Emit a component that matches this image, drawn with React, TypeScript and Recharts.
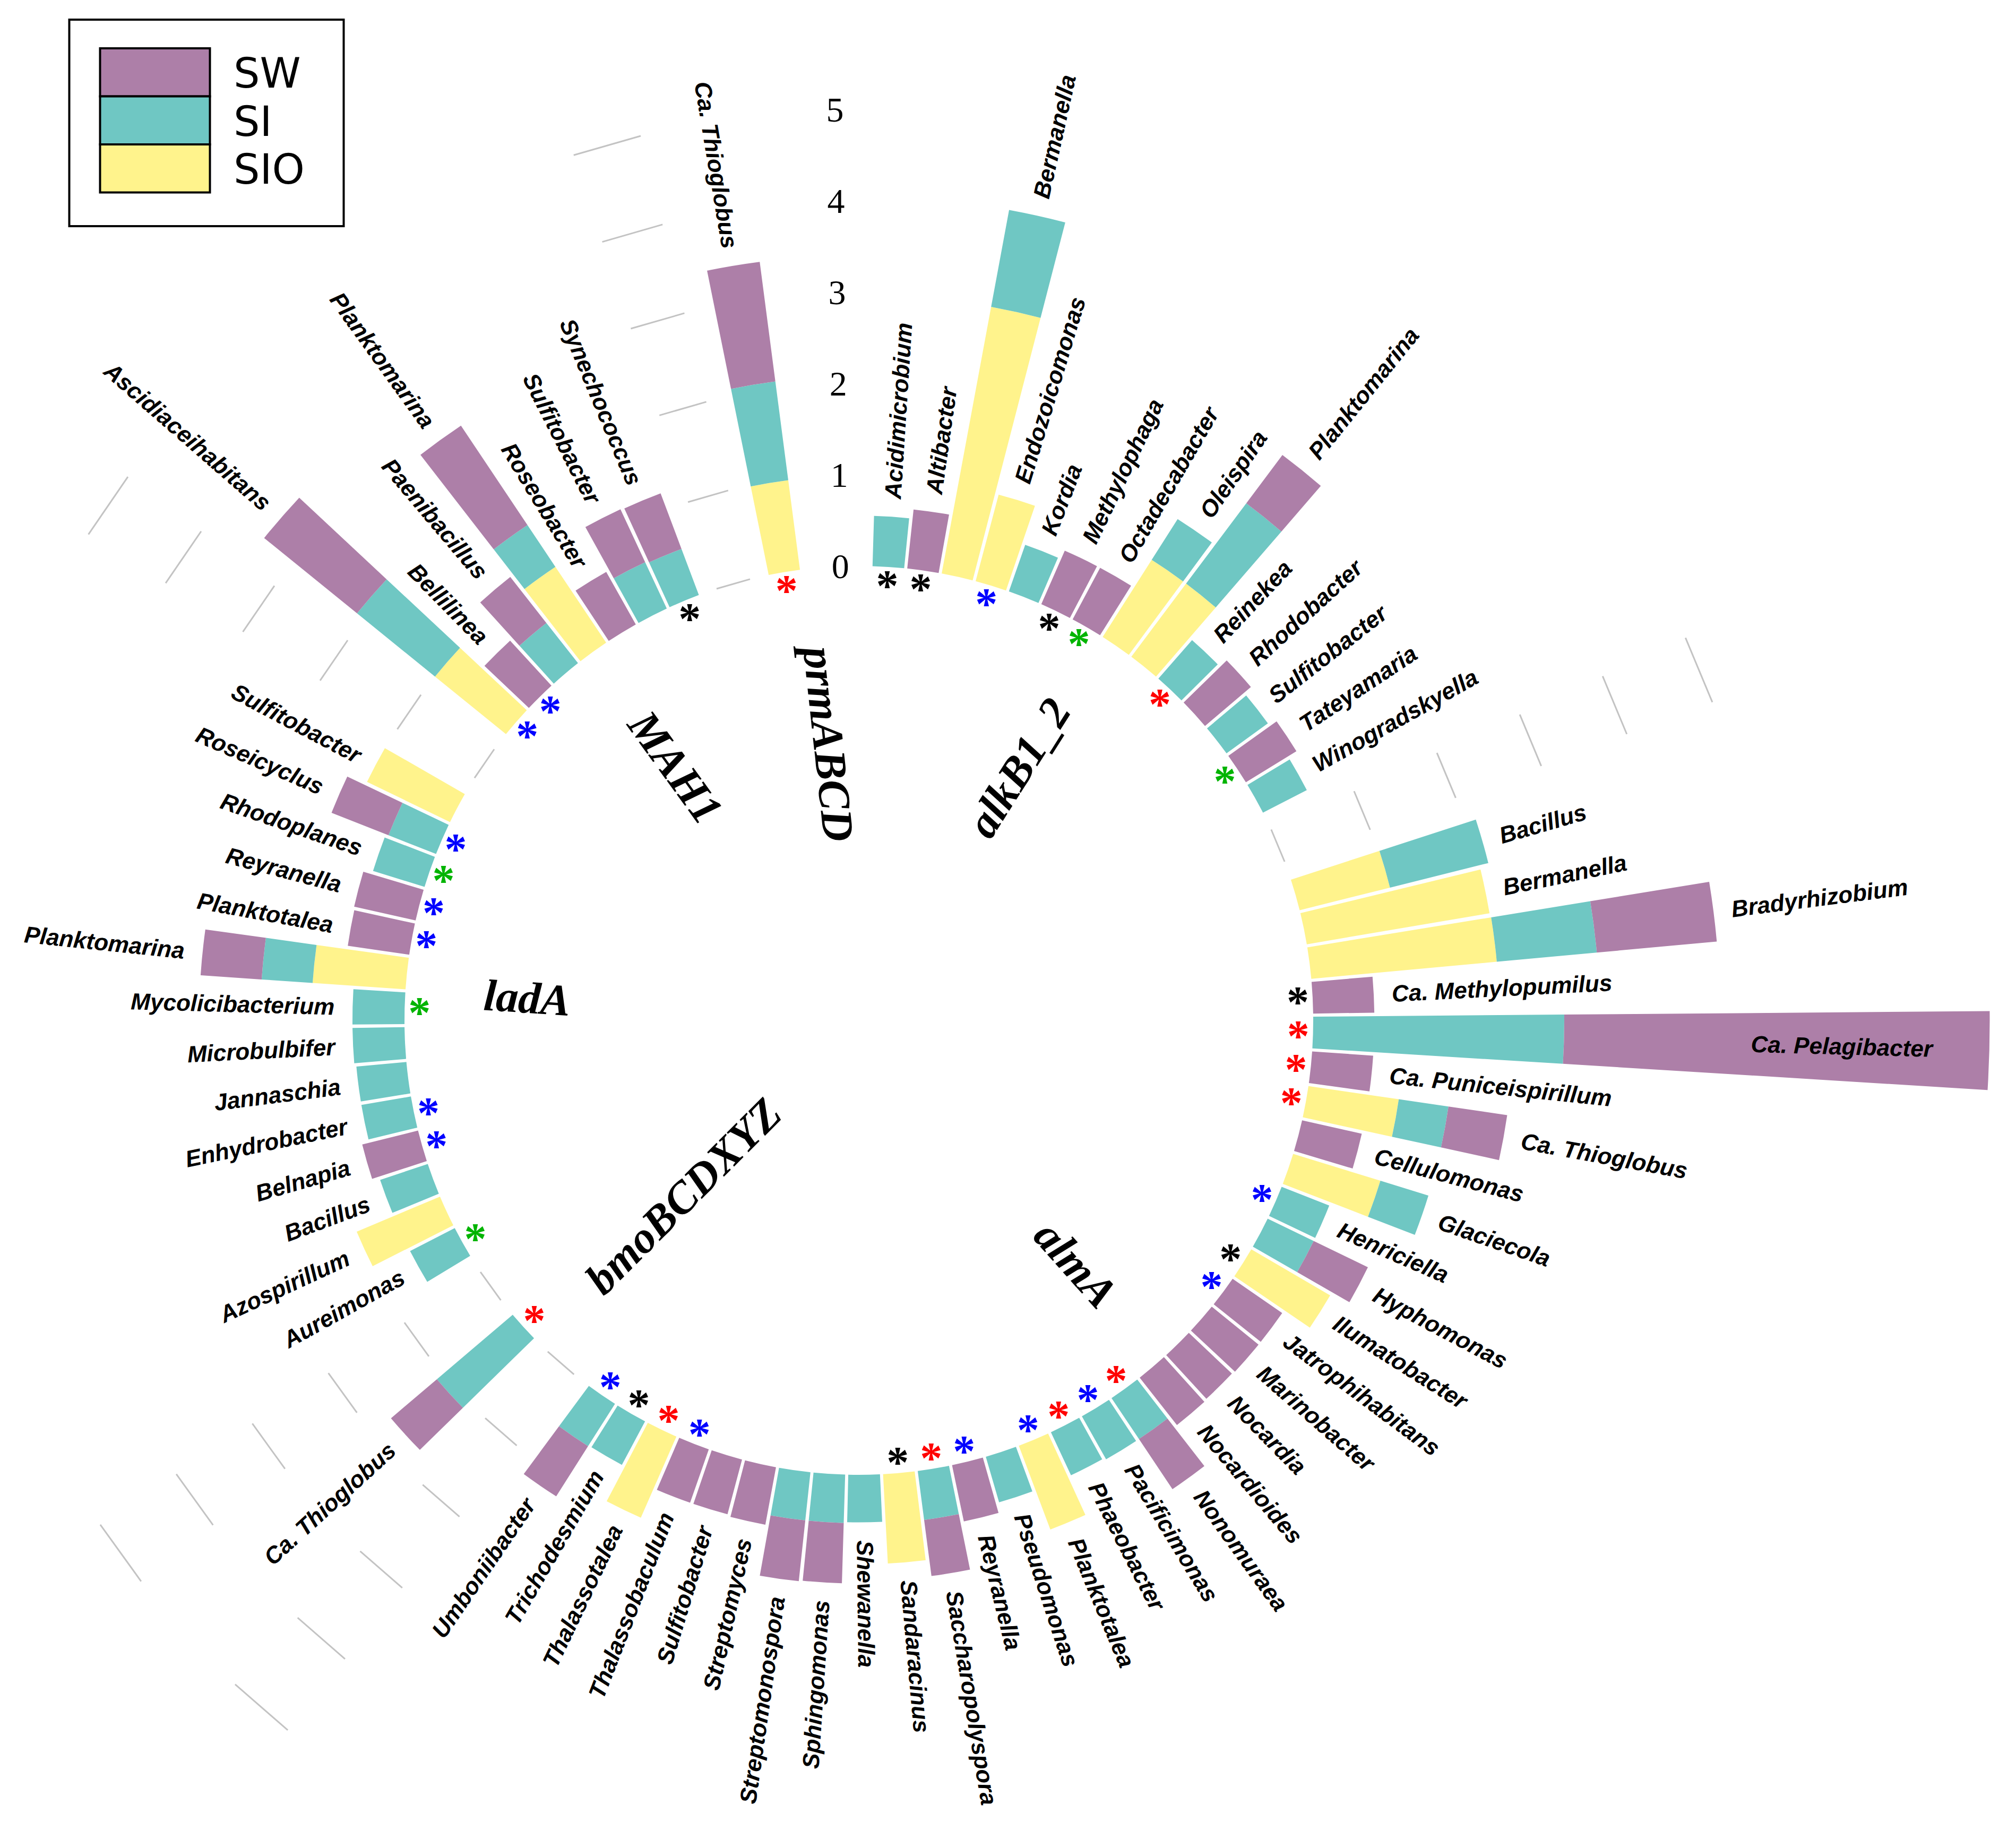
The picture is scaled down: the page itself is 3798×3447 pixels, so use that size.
import React from 'react';
import { RadialBarChart, RadialBar, PolarAngleAxis, PolarRadiusAxis } from 'recharts';

const WIDTH = 3798;
const HEIGHT = 3447;

// polar frame
const CX = 1618;
const CY = 1922;
const INNER_R = 856;
const UNIT_R = 172;
const MAX_VALUE = 8;
const START_ANGLE = 84.1;
const LABEL_CAP = 4.6;
const LABEL_GAP = 34;
const STAR_R = 828;
const GROUP_LABEL_R = 708;

const SERIES = ['SIO', 'SI', 'SW']; // inner -> outer
const SERIES_COLOR: Record<string, string> = { SW: '#ad7fa8', SI: '#6fc7c3', SIO: '#fff38c' };
const LEGEND_ORDER = ['SW', 'SI', 'SIO'];
const STAR_COLOR: Record<string, string> = { k: '#000000', r: '#ff0000', b: '#0000ff', g: '#00b400' };
const AXIS_TICKS = [0, 1, 2, 3, 4, 5];
const EMPTY_BARS = 2;

// ---- alkB1_2
const ALKB_GENERA = ['Acidimicrobium', 'Altibacter', 'Bermanella', 'Endozoicomonas', 'Kordia', 'Methylophaga', 'Octadecabacter', 'Oleispira', 'Planktomarina', 'Reinekea', 'Rhodobacter', 'Sulfitobacter', 'Tateyamaria', 'Winogradskyella'];
const ALKB_SIO = [0, 0, 2.97, 0.98, 0, 0, 0, 1.0, 1.0, 0, 0, 0, 0, 0];
const ALKB_SI = [0.55, 0, 1.08, 0, 0.54, 0, 0, 0.53, 1.1, 0.56, 0, 0.56, 0, 0.54];
const ALKB_SW = [0, 0.65, 0, 0, 0, 0.64, 0.64, 0, 0.66, 0, 0.66, 0, 0.65, 0];
const ALKB_STARS = ['k', 'k', '', 'b', '', 'k', 'g', '', '', 'r', '', '', 'g', ''];

// ---- almA
const ALMA_GENERA = ['Bacillus', 'Bermanella', 'Bradyrhizobium', 'Ca. Methylopumilus', 'Ca. Pelagibacter', 'Ca. Puniceispirillum', 'Ca. Thioglobus', 'Cellulomonas', 'Glaciecola', 'Henriciella', 'Hyphomonas', 'Ilumatobacter', 'Jatrophihabitans', 'Marinobacter', 'Nocardia', 'Nocardioides', 'Nonomuraea', 'Pacificimonas', 'Phaeobacter', 'Planktotalea', 'Pseudomonas', 'Reyranella', 'Saccharopolyspora', 'Sandaracinus', 'Shewanella', 'Sphingomonas', 'Streptomonospora', 'Streptomyces', 'Sulfitobacter', 'Thalassobaculum', 'Thalassotalea', 'Trichodesmium', 'Umboniibacter'];
const ALMA_SIO = [1.02, 2.03, 2.04, 0, 0, 0, 1.0, 0, 1.0, 0, 0, 1.0, 0, 0, 0, 0, 0, 0, 0, 0.98, 0, 0, 0, 0.98, 0, 0, 0, 0, 0, 0, 0.97, 0, 0];
const ALMA_SI = [1.11, 0, 1.1, 0, 2.75, 0, 0.55, 0, 0.55, 0.56, 0.56, 0, 0, 0, 0, 0, 0.54, 0.54, 0.52, 0, 0.52, 0, 0.54, 0, 0.52, 0.53, 0.53, 0, 0, 0, 0, 0.54, 0.55];
const ALMA_SW = [0, 0, 1.32, 0.67, 4.66, 0.67, 0.65, 0.67, 0, 0, 0.66, 0, 0.66, 0.66, 0.65, 0.66, 0.66, 0, 0, 0, 0, 0.63, 0.62, 0, 0, 0.66, 0.67, 0.64, 0.62, 0.62, 0, 0, 0.65];
const ALMA_STARS = ['', '', '', 'k', 'r', 'r', 'r', '', '', 'b', '', 'k', 'b', '', '', '', 'r', 'b', 'r', 'b', '', 'b', 'r', 'k', '', '', '', '', '', 'b', 'r', 'k', 'b'];

// ---- bmoBCDXYZ
const BMO_GENERA = ['Ca. Thioglobus'];
const BMO_SIO = [0];
const BMO_SI = [1.09];
const BMO_SW = [0.66];
const BMO_STARS = ['r'];

// ---- ladA
const LADA_GENERA = ['Aureimonas', 'Azospirillum', 'Bacillus', 'Belnapia', 'Enhydrobacter', 'Jannaschia', 'Microbulbifer', 'Mycolicibacterium', 'Planktomarina', 'Planktotalea', 'Reyranella', 'Rhodoplanes', 'Roseicyclus', 'Sulfitobacter'];
const LADA_SIO = [0, 0.99, 0, 0, 0, 0, 0, 0, 1.02, 0, 0, 0, 0, 1.01];
const LADA_SI = [0.55, 0, 0.55, 0, 0.55, 0.55, 0.57, 0.57, 0.56, 0, 0, 0.59, 0.56, 0];
const LADA_SW = [0, 0, 0, 0.63, 0, 0, 0, 0, 0.67, 0.68, 0.69, 0, 0.67, 0];
const LADA_STARS = ['g', '', '', 'b', 'b', '', '', 'g', '', 'b', 'b', 'g', 'b', ''];

// ---- MAH1
const MAH1_GENERA = ['Ascidiaceihabitans', 'Bellilinea', 'Paenibacillus', 'Planktomarina', 'Roseobacter', 'Sulfitobacter', 'Synechococcus'];
const MAH1_SIO = [1.0, 0, 0, 1.0, 0, 0, 0];
const MAH1_SI = [1.1, 0, 0.56, 0.55, 0, 0.56, 0.54];
const MAH1_SW = [1.31, 0.67, 0.64, 1.31, 0.66, 0.64, 0.65];
const MAH1_STARS = ['b', 'b', '', '', '', '', 'k'];

// ---- prmABCD
const PRM_GENERA = ['Ca. Thioglobus'];
const PRM_SIO = [0.99];
const PRM_SI = [1.09];
const PRM_SW = [1.32];
const PRM_STARS = ['r'];

const GROUPS = [
  { name: 'alkB1_2', genera: ALKB_GENERA, SIO: ALKB_SIO, SI: ALKB_SI, SW: ALKB_SW, stars: ALKB_STARS },
  { name: 'almA', genera: ALMA_GENERA, SIO: ALMA_SIO, SI: ALMA_SI, SW: ALMA_SW, stars: ALMA_STARS },
  { name: 'bmoBCDXYZ', genera: BMO_GENERA, SIO: BMO_SIO, SI: BMO_SI, SW: BMO_SW, stars: BMO_STARS },
  { name: 'ladA', genera: LADA_GENERA, SIO: LADA_SIO, SI: LADA_SI, SW: LADA_SW, stars: LADA_STARS },
  { name: 'MAH1', genera: MAH1_GENERA, SIO: MAH1_SIO, SI: MAH1_SI, SW: MAH1_SW, stars: MAH1_STARS },
  { name: 'prmABCD', genera: PRM_GENERA, SIO: PRM_SIO, SI: PRM_SI, SW: PRM_SW, stars: PRM_STARS },
];

// where the gene names sit (degrees clockwise from 12 o'clock)
const GROUP_LABEL_THETA: Record<string, number> = {
  alkB1_2: 32.3, almA: 138.3, bmoBCDXYZ: 225, ladA: 273.9, MAH1: 324.1, prmABCD: 353.8,
};

type Row = {
  id: number; group: string; name: string; SIO: number; SI: number; SW: number;
  star: string; first: boolean; gap: number; lastGroup: boolean;
};

const ROWS: Row[] = [];
GROUPS.forEach((g, gi) => {
  g.genera.forEach((name, j) => {
    ROWS.push({
      id: ROWS.length, group: g.name, name, SIO: g.SIO[j], SI: g.SI[j], SW: g.SW[j],
      star: g.stars[j], first: j === 0, gap: -1, lastGroup: gi === GROUPS.length - 1,
    });
  });
  for (let k = 0; k < EMPTY_BARS; k++) {
    ROWS.push({
      id: ROWS.length, group: g.name, name: '', SIO: 0, SI: 0, SW: 0,
      star: '', first: false, gap: k, lastGroup: gi === GROUPS.length - 1,
    });
  }
});

const N = ROWS.length;
const STEP = 360 / N;
// centre of the sector recharts draws for category i, clockwise from 12 o'clock
const thetaOf = (i: number) => 90 - START_ANGLE + (i - 0.5) * STEP;
const rOf = (v: number) => INNER_R + v * UNIT_R;
const polar = (cx: number, cy: number, th: number, r: number) => {
  const a = (th * Math.PI) / 180;
  return [cx + r * Math.sin(a), cy - r * Math.cos(a)];
};

const SANS = "'Liberation Sans', Arial, sans-serif";
const SERIF = "'Liberation Serif', 'Times New Roman', serif";

function Annotations(props: any) {
  const id = props?.payload?.value;
  const row = ROWS[id];
  if (!row) return null;
  const cx = typeof props.cx === 'number' ? props.cx : CX;
  const cy = typeof props.cy === 'number' ? props.cy : CY;
  const th = thetaOf(id);
  const out: React.ReactNode[] = [];

  if (row.name) {
    const total = row.SIO + row.SI + row.SW;
    const [x, y] = polar(cx, cy, th, rOf(Math.min(total, LABEL_CAP)) + LABEL_GAP);
    const right = th < 180;
    out.push(
      <text key="lab" x={x} y={y} transform={`rotate(${right ? th - 90 : th + 90} ${x} ${y})`}
        textAnchor={right ? 'start' : 'end'} dominantBaseline="central"
        fontFamily={SANS} fontWeight="bold" fontStyle="italic" fontSize={44} fill="#000">
        {row.name}
      </text>,
    );
  }

  if (row.star) {
    const [x, y] = polar(cx, cy, th, STAR_R);
    out.push(
      <text key="star" x={x} y={y + 36} textAnchor="middle" fontFamily={SERIF} fontWeight="bold"
        fontSize={84} fill={STAR_COLOR[row.star]}>*</text>,
    );
  }

  // grey level marks in the gap after each gene group (not after the last)
  if (row.gap === 0 && !row.lastGroup) {
    const th2 = thetaOf(id + 1);
    AXIS_TICKS.forEach((v) => {
      const [x1, y1] = polar(cx, cy, th, rOf(v));
      const [x2, y2] = polar(cx, cy, th2, rOf(v));
      out.push(<line key={`g${v}`} x1={x1} y1={y1} x2={x2} y2={y2} stroke="#c3c3c3" strokeWidth={3} />);
    });
  }

  // value scale in the very last empty slot
  if (id === N - 1) {
    AXIS_TICKS.forEach((v) => {
      const [x, y] = polar(cx, cy, th, rOf(v));
      out.push(
        <text key={`a${v}`} x={x - 8} y={y} textAnchor="end" dominantBaseline="central"
          fontFamily={SERIF} fontSize={66} fill="#000">{v}</text>,
      );
    });
  }

  if (row.first) {
    const gth = GROUP_LABEL_THETA[row.group];
    const [x, y] = polar(cx, cy, gth, GROUP_LABEL_R);
    const right = gth < 180;
    out.push(
      <text key="grp" x={x} y={y} transform={`rotate(${right ? gth - 90 : gth + 90} ${x} ${y})`}
        textAnchor={right ? 'end' : 'start'} dominantBaseline="central"
        fontFamily={SERIF} fontWeight="bold" fontStyle="italic" fontSize={84} fill="#000">
        {row.group}
      </text>,
    );
  }

  return <g>{out}</g>;
}

function LegendBox() {
  const top = 91;
  const h = 90.5;
  return (
    <svg width={700} height={460} style={{ position: 'absolute', left: 0, top: 0 }}>
      <rect x={130.5} y={37} width={517} height={389} fill="#fff" stroke="#000" strokeWidth={4} />
      {LEGEND_ORDER.map((s, k) => (
        <g key={s}>
          <rect x={188.5} y={top + k * h} width={207} height={h} fill={SERIES_COLOR[s]} stroke="#000" strokeWidth={4} />
          <text x={440} y={top + k * h + 74} fontFamily="'DejaVu Sans', Verdana, sans-serif" fontSize={78} fill="#000">{s}</text>
        </g>
      ))}
    </svg>
  );
}

export default function App() {
  return (
    <div style={{ position: 'absolute', left: 0, top: 0, width: WIDTH, height: HEIGHT, background: '#fff', overflow: 'hidden' }}>
      <RadialBarChart
        width={WIDTH}
        height={HEIGHT}
        data={ROWS}
        layout="centric"
        cx={CX}
        cy={CY}
        innerRadius={INNER_R}
        outerRadius={INNER_R + MAX_VALUE * UNIT_R}
        startAngle={START_ANGLE}
        endAngle={START_ANGLE - 360}
        barCategoryGap="4%"
        margin={{ top: 0, right: 0, bottom: 0, left: 0 }}
      >
        <PolarRadiusAxis type="number" domain={[0, MAX_VALUE]} tick={false} axisLine={false} />
        {SERIES.map((s) => (
          <RadialBar key={s} dataKey={s} stackId="dist" fill={SERIES_COLOR[s]} isAnimationActive={false} />
        ))}
        <PolarAngleAxis type="category" dataKey="id" axisLine={false} tickLine={false} tick={Annotations} />
      </RadialBarChart>
      <LegendBox />
    </div>
  );
}
